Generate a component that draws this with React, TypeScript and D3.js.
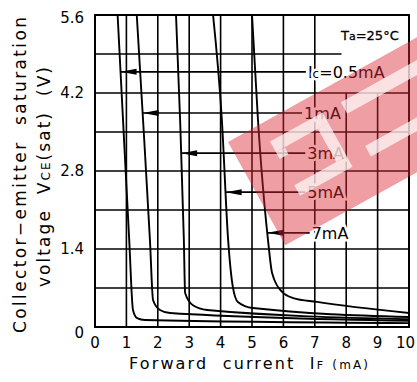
import React from "react";
import * as d3 from "d3";

// axis ticks
const xTicks = [0, 1, 2, 3, 4, 5, 6, 7, 8, 9, 10];
const yTicks = [0, 1.4, 2.8, 4.2, 5.6];
const yGrid = [0.7, 1.4, 2.1, 2.8, 3.5, 4.2, 4.9];

// IF (mA) / VCE(sat) (V), one pair per collector current
const ic05If = [0.72, 1.09, 1.21, 1.34, 1.59, 10];
const ic05Vce = [5.6, 1.56, 0.305, 0.16, 0.126, 0.07];
const ic1If = [1.33, 1.53, 1.75, 1.85, 2.07, 2.39, 10];
const ic1Vce = [5.6, 3.72, 1.56, 0.48, 0.305, 0.25, 0.11];
const ic3If = [2.58, 2.71, 2.83, 2.87, 3.12, 3.57, 10];
const ic3Vce = [5.6, 3.72, 1.56, 0.61, 0.39, 0.305, 0.14];
const ic5If = [3.76, 4.04, 4.24, 4.39, 4.55, 5.03, 10];
const ic5Vce = [5.6, 3.72, 1.56, 0.72, 0.45, 0.34, 0.18];
const ic7If = [5.0, 5.19, 5.51, 5.64, 5.96, 6.31, 7.07, 10];
const ic7Vce = [5.6, 3.72, 1.56, 0.97, 0.63, 0.52, 0.45, 0.25];

const curveIf = [ic05If, ic1If, ic3If, ic5If, ic7If];
const curveVce = [ic05Vce, ic1Vce, ic3Vce, ic5Vce, ic7Vce];

// curve labels: text, height of the arrow (V), where the text starts (mA)
const labelNames = ["0.5mA", "1mA", "3mA", "5mA", "7mA"];
const labelVce = [4.58, 3.84, 3.12, 2.42, 1.69];
const labelIf = [6.78, 6.66, 6.76, 6.76, 6.9];

const W = 417, H = 382;
const plot = { left: 95, right: 409, top: 15, bottom: 327 };
const font = "'DejaVu Sans', sans-serif";

// x of a curve at a given voltage, to put the arrow tip on it
const crossAt = (xs: number[], ys: number[], v: number) => {
  for (let i = 0; i < xs.length - 1; i++) {
    if (ys[i] >= v && ys[i + 1] <= v) {
      const t = (ys[i] - v) / (ys[i] - ys[i + 1]);
      return xs[i] + t * (xs[i + 1] - xs[i]);
    }
  }
  return xs[0];
};

export default function App() {
  const x = d3.scaleLinear([0, 10], [plot.left, plot.right]);
  const y = d3.scaleLinear([0, 5.6], [plot.bottom, plot.top]);
  const line = d3.line<[number, number]>()
    .x(d => x(d[0]))
    .y(d => y(d[1]))
    .curve(d3.curveMonotoneX);

  return (
    <svg width={W} height={H} style={{ position: "absolute", left: 0, top: 0, background: "#fff" }}>
      <defs>
        <clipPath id="plotClip">
          <rect x={plot.left} y={plot.top} width={plot.right - plot.left} height={plot.bottom - plot.top} />
        </clipPath>
      </defs>

      {/* grid */}
      <g stroke="#000" strokeWidth={1.6}>
        {xTicks.slice(1, -1).map(t => (
          <line key={"gx" + t} x1={x(t)} x2={x(t)} y1={t >= 8 ? y(4.2) : plot.top} y2={plot.bottom} />
        ))}
        {yGrid.map(t => (
          <line key={"gy" + t} x1={plot.left} x2={t === 4.9 ? x(7.85) : plot.right} y1={y(t)} y2={y(t)} />
        ))}
      </g>

      {/* curves */}
      <g clipPath="url(#plotClip)" fill="none" stroke="#000" strokeWidth={1.9} strokeLinejoin="round">
        {curveIf.map((xs, i) => (
          <path key={i} d={line(xs.map((v, j) => [v, curveVce[i][j]]) as [number, number][]) || ""} />
        ))}
      </g>

      {/* curve labels with arrows */}
      {labelNames.map((name, i) => {
        const ty = y(labelVce[i]);
        const tip = x(crossAt(curveIf[i], curveVce[i], labelVce[i]));
        const tx = x(labelIf[i]);
        return (
          <g key={name}>
            <line x1={tip} x2={tx - 2} y1={ty} y2={ty} stroke="#000" strokeWidth={1.6} />
            <path d={`M${tip},${ty}L${tip + 16},${ty - 3}L${tip + 16},${ty + 3}Z`} fill="#000" />
            <text x={tx} y={ty} dy="0.36em" fontFamily={font} fontSize={16} fill="#000"
              stroke="#fff" strokeWidth={5} style={{ paintOrder: "stroke" }}>
              {i === 0 ? <><tspan>I</tspan><tspan fontSize={12}>c</tspan><tspan>=</tspan>{name}</> : name}
            </text>
          </g>
        );
      })}

      <text x={341} y={40} fontFamily={font} fontSize={13} stroke="#000" strokeWidth={0.3}>
        T<tspan fontSize={11}>a</tspan>=25°C
      </text>

      {/* frame */}
      <rect x={plot.left} y={plot.top} width={plot.right - plot.left} height={plot.bottom - plot.top}
        fill="none" stroke="#000" strokeWidth={2} />

      {/* ticks */}
      <g fontFamily={font} fontSize={15} fill="#000">
        {xTicks.map((t, i) => (
          <text key={"tx" + t} x={i === xTicks.length - 1 ? W - 2 : x(t)} y={343} dy="0.36em"
            textAnchor={i === xTicks.length - 1 ? "end" : "middle"}>{t}</text>
        ))}
        {yTicks.map(t => (
          <text key={"ty" + t} x={84} y={y(t) + (t === 0 ? 6 : t === 5.6 ? 3 : 0)} dy="0.36em" textAnchor="end">
            {t}
          </text>
        ))}
      </g>

      {/* axis titles */}
      <text x={248.5} y={369} fontFamily={font} fontSize={16} textAnchor="middle" textLength={239}
        lengthAdjust="spacing" style={{ whiteSpace: "pre" }}>
        Forward  current  I<tspan fontSize={11}>F</tspan> <tspan fontSize={12}>(mA)</tspan>
      </text>
      <g fontFamily={font} fontSize={17} textAnchor="middle">
        <text transform="translate(25.5,175) rotate(-90)" textLength={316} lengthAdjust="spacing"
          style={{ whiteSpace: "pre" }}>
          Collector−emitter  saturation
        </text>
        <text transform="translate(50,177) rotate(-90)" textLength={220} lengthAdjust="spacing"
          style={{ whiteSpace: "pre" }}>
          voltage  V<tspan fontSize={12}>CE</tspan>(sat)  (V)
        </text>
      </g>

      {/* watermark over the chart */}
      <g transform="translate(228,142) rotate(-29)">
        <rect x={0} y={0} width={300} height={118} fill="#dc2834" opacity={0.45} />
        <g fill="#fff" opacity={0.7}>
          <rect x={37} y={20} width={60} height={12} />
          <rect x={37} y={70} width={60} height={12} />
          <rect x={85} y={32} width={12} height={38} />
          <rect x={37} y={32} width={10} height={8} />
          <rect x={118} y={20} width={150} height={13} />
          <rect x={118} y={70} width={150} height={12} />
        </g>
      </g>
    </svg>
  );
}
